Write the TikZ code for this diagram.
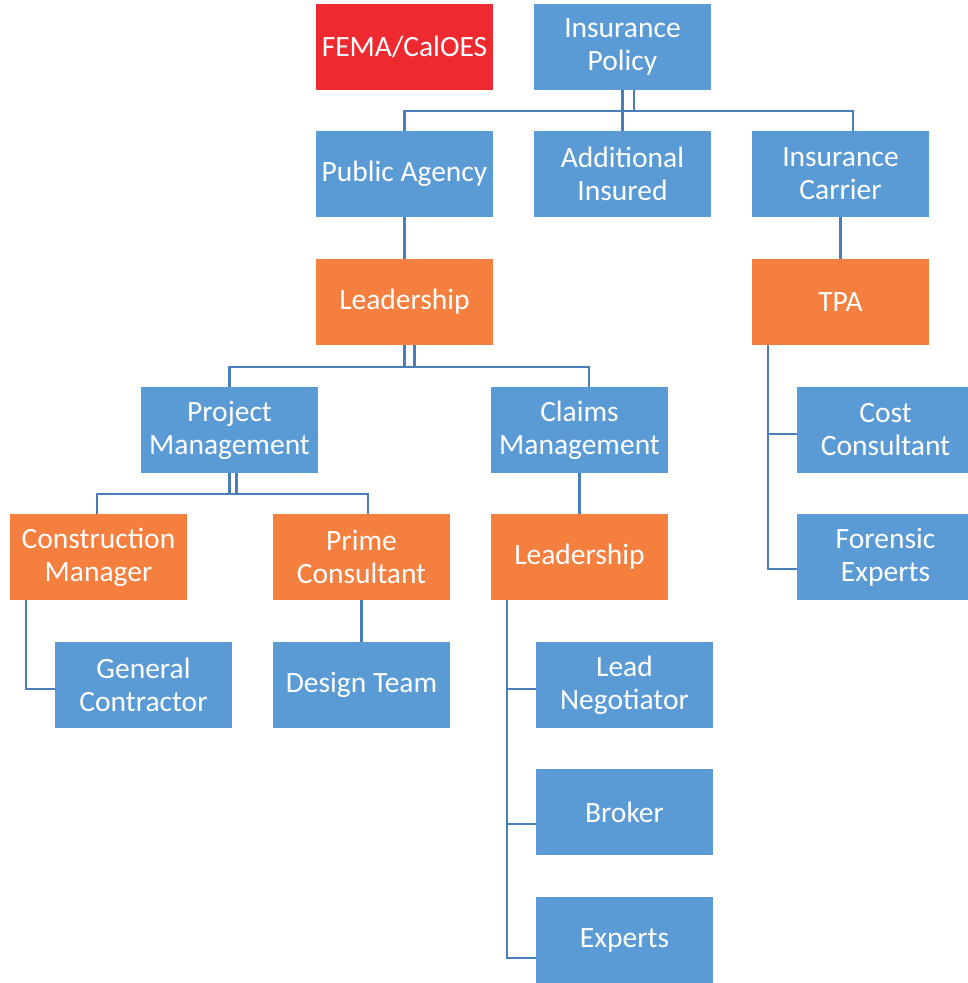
\documentclass[tikz,border=0pt]{standalone}
\usepackage{fontspec}
\setmainfont{Carlito}
\usepackage{tikz}

\definecolor{boxblue}{HTML}{5A9BD5}
\definecolor{boxorange}{HTML}{F47F3E}
\definecolor{boxred}{HTML}{EE2A30}
\definecolor{linkblue}{HTML}{4A7EBB}

\begin{document}
\begin{tikzpicture}[x=1pt,y=-1pt,
  box/.style={minimum width=177pt,minimum height=86pt,inner sep=0pt,text=white,align=center,
    font=\fontsize{29.5}{33}\selectfont},
  bluebox/.style={box,fill=boxblue},
  orangebox/.style={box,fill=boxorange},
  redbox/.style={box,fill=boxred},
  link/.style={draw=linkblue,line width=2.6pt}]

\clip (0,0) rectangle (968,983);

% top row
\node[redbox] (fema) at (404.5,47) {FEMA/CalOES};
\node[bluebox] (policy) at (622.5,47) {Insurance\\Policy};

\node[bluebox] (agency) at (404.5,174) {Public Agency};
\node[bluebox] (addins) at (622.5,174) {Additional\\Insured};
\node[bluebox] (carrier) at (840.5,174) {Insurance\\Carrier};

\node[orangebox] (lead1) at (404.5,302) {Leadership};
\node[orangebox] (tpa) at (840.5,302) {TPA};

\node[bluebox] (pm) at (229.5,430) {Project\\Management};
\node[bluebox] (cm) at (579.5,430) {Claims\\Management};
\node[bluebox] (cost) at (885.5,430) {Cost\\Consultant};

\node[orangebox] (constr) at (98.5,557) {Construction\\Manager};
\node[orangebox] (prime) at (361.5,557) {Prime\\Consultant};
\node[orangebox] (lead2) at (579.5,557) {Leadership};
\node[bluebox] (forensic) at (885.5,557) {Forensic\\Experts};

\node[bluebox] (gc) at (143.5,685) {General\\Contractor};
\node[bluebox] (design) at (361.5,685) {Design Team};
\node[bluebox] (negot) at (624.5,685) {Lead\\Negotiator};
\node[bluebox] (broker) at (624.5,812) {Broker};
\node[bluebox] (experts) at (624.5,940) {Experts};

\coordinate (lbus) at ([xshift=16pt]lead2.south west);
\coordinate (tbus) at ([xshift=16pt]tpa.south west);

% connectors
\draw[link] (policy.south) -- (addins.north);
\draw[link] ([xshift=11.5pt]policy.south) -- ++(0,21);
\draw[link] (agency.north) -- ++(0,-20) -| ([xshift=12.5pt]carrier.north);

\draw[link] (agency.south) -- (lead1.north);
\draw[link] (carrier.south) -- (tpa.north);

\draw[link] (lead1.south) -- ++(0,22);
\draw[link] ([xshift=10pt]lead1.south) -- ++(0,22);
\draw[link] (pm.north) -- ++(0,-20) -| ([xshift=9.5pt]cm.north);

\draw[link] (pm.south) -- ++(0,21);
\draw[link] ([xshift=7pt]pm.south) -- ++(0,21);
\draw[link] ([xshift=-1.5pt]constr.north) -- ++(0,-20) -| ([xshift=6.5pt]prime.north);

\draw[link] ([xshift=-72.5pt]constr.south) |- ([yshift=-4pt]gc.west);
\draw[link] (prime.south) -- (design.north);
\draw[link] (cm.south) -- (lead2.north);

\draw[link] (lbus) |- ([yshift=-18pt]experts.west);
\draw[link] ([yshift=-4pt]negot.west -| lbus) -- ([yshift=-4pt]negot.west);
\draw[link] ([yshift=-12pt]broker.west -| lbus) -- ([yshift=-12pt]broker.west);

\draw[link] (tbus) |- ([yshift=-12pt]forensic.west);
\draw[link] ([yshift=-4pt]cost.west -| tbus) -- ([yshift=-4pt]cost.west);

\end{tikzpicture}
\end{document}
